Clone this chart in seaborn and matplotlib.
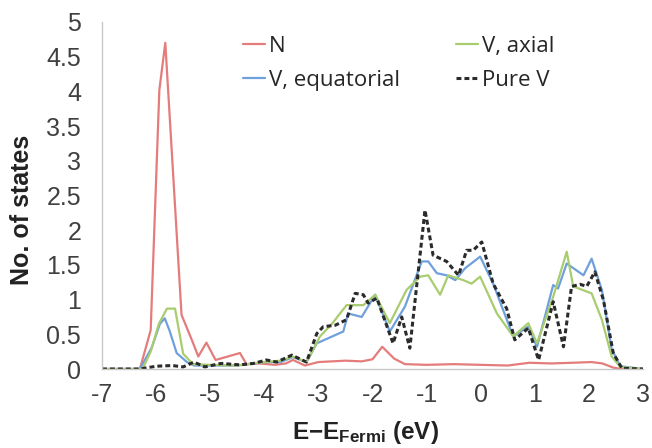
import matplotlib
matplotlib.use("Agg")
import matplotlib.pyplot as plt
import seaborn as sns
import pandas as pd

# Projected density of states, energies relative to the Fermi level (eV)
E_N = [-7.0, -6.3, -6.1, -5.94, -5.83, -5.53, -5.34, -5.22, -5.07, -4.9, -4.45,
       -4.33, -4.1, -3.8, -3.6, -3.47, -3.25, -3.0, -2.5, -2.2, -2.0, -1.82,
       -1.6, -1.4, -1.0, -0.5, 0.0, 0.5, 0.9, 1.3, 1.7, 2.05, 2.25, 2.45, 2.6, 3.0]
dos_N = [0, 0, 0.56, 4.02, 4.70, 0.78, 0.42, 0.18, 0.38, 0.13, 0.23,
         0.07, 0.08, 0.06, 0.08, 0.13, 0.05, 0.10, 0.12, 0.11, 0.14, 0.32,
         0.15, 0.07, 0.06, 0.07, 0.06, 0.05, 0.09, 0.08, 0.09, 0.10, 0.08, 0.02, 0.0, 0.0]

E_Veq = [-7.0, -6.3, -6.08, -5.93, -5.84, -5.75, -5.62, -5.43, -5.3, -5.0, -4.5,
         -4.0, -3.7, -3.47, -3.22, -3.03, -2.8, -2.54, -2.45, -2.2, -1.95, -1.68,
         -1.40, -1.09, -0.97, -0.81, -0.63, -0.47, -0.29, -0.01, 0.23, 0.60, 0.88,
         1.04, 1.34, 1.43, 1.59, 1.90, 2.05, 2.24, 2.42, 2.58, 3.0]
dos_Veq = [0, 0, 0.31, 0.65, 0.73, 0.55, 0.23, 0.10, 0.05, 0.05, 0.05,
           0.10, 0.10, 0.17, 0.10, 0.37, 0.45, 0.54, 0.80, 0.75, 1.07, 0.54,
           0.90, 1.55, 1.55, 1.38, 1.35, 1.28, 1.45, 1.62, 1.23, 0.47, 0.61,
           0.32, 1.21, 1.16, 1.52, 1.35, 1.59, 1.14, 0.29, 0.04, 0.0]

E_Vax = [-7.0, -6.25, -6.1, -5.95, -5.8, -5.65, -5.5, -5.32, -5.0, -4.5, -4.0,
         -3.7, -3.47, -3.22, -2.97, -2.75, -2.48, -2.17, -1.95, -1.68, -1.37,
         -1.12, -0.97, -0.75, -0.60, -0.32, -0.17, -0.01, 0.30, 0.60, 0.88,
         1.04, 1.34, 1.59, 1.71, 2.05, 2.24, 2.42, 2.58, 3.0]
dos_Vax = [0, 0, 0.25, 0.65, 0.87, 0.87, 0.22, 0.07, 0.06, 0.05, 0.10,
           0.12, 0.18, 0.10, 0.47, 0.65, 0.92, 0.92, 1.07, 0.66, 1.14,
           1.33, 1.35, 1.07, 1.35, 1.28, 1.23, 1.33, 0.80, 0.47, 0.66,
           0.37, 1.04, 1.69, 1.19, 1.09, 0.71, 0.18, 0.03, 0.0]

E_pure = [-7.0, -6.3, -6.0, -5.7, -5.5, -5.3, -5.1, -4.8, -4.45, -4.2, -3.96,
          -3.77, -3.49, -3.22, -3.03, -2.91, -2.69, -2.48, -2.32, -2.17, -2.08,
          -1.92, -1.62, -1.46, -1.31, -1.03, -0.88, -0.63, -0.41, -0.26, -0.14,
          0.02, 0.23, 0.48, 0.63, 0.88, 1.07, 1.34, 1.53, 1.68, 1.84, 1.96, 2.11,
          2.27, 2.45, 2.61, 3.0]
dos_pure = [0, 0, 0.04, 0.05, 0.03, 0.10, 0.03, 0.08, 0.06, 0.08, 0.13,
            0.10, 0.20, 0.10, 0.51, 0.61, 0.63, 0.71, 1.09, 1.07, 0.95,
            1.02, 0.37, 0.75, 0.30, 2.29, 1.64, 1.55, 1.35, 1.71, 1.71,
            1.83, 1.23, 0.87, 0.42, 0.59, 0.13, 0.97, 0.32, 1.19, 1.22, 1.19, 1.40,
            0.99, 0.23, 0.01, 0.0]

labels = ["N", "V, equatorial", "V, axial", "Pure V"]
x_ticks = [-7, -6, -5, -4, -3, -2, -1, 0, 1, 2, 3]
y_ticks = [0, 0.5, 1, 1.5, 2, 2.5, 3, 3.5, 4, 4.5, 5]
y_tick_labels = ["0", "0.5", "1", "1.5", "2", "2.5", "3", "3.5", "4", "4.5", "5"]

sns.set_theme(style="white")
plt.rcParams["font.family"] = ["Liberation Sans", "DejaVu Sans"]
plt.rcParams["mathtext.fontset"] = "custom"
plt.rcParams["mathtext.rm"] = "Liberation Sans"
plt.rcParams["mathtext.bf"] = "Liberation Sans:bold"

fig = plt.figure(figsize=(6.52, 4.48), dpi=100)
ax = fig.add_axes([102 / 652, 1 - 369 / 448, (643 - 102) / 652, (369 - 22) / 448])

series = [
    (labels[0], E_N, dos_N, "#E47C7C", "-", 1.6),
    (labels[1], E_Veq, dos_Veq, "#6FA0DC", "-", 1.6),
    (labels[2], E_Vax, dos_Vax, "#A9CC6E", "-", 1.6),
    (labels[3], E_pure, dos_pure, "#2B2B2B", (0, (1.6, 1.0)), 2.2),
]
for name, e, d, color, ls, lw in series:
    df = pd.DataFrame({"E": e, "DOS": d})
    sns.lineplot(data=df, x="E", y="DOS", ax=ax, color=color, linestyle=ls,
                 linewidth=lw, label=name, sort=False, estimator=None)

ax.set_xlim(-7, 3)
ax.set_ylim(0, 5)
ax.set_xticks(x_ticks)
ax.set_xticklabels([str(t) for t in x_ticks])
ax.set_yticks(y_ticks)
ax.set_yticklabels(y_tick_labels)
ax.tick_params(axis="both", labelsize=18, labelcolor="#404040", color="#C8C8C8",
               direction="in", length=4, width=1)
ax.tick_params(axis="x", pad=10)
ax.tick_params(axis="y", pad=15)

for side in ["top", "right"]:
    ax.spines[side].set_visible(False)
for side in ["left", "bottom"]:
    ax.spines[side].set_color("#C8C8C8")
    ax.spines[side].set_linewidth(1)

ax.set_xlabel(r"$\mathbf{E{-}E_{Fermi}}$ (eV)", fontsize=17.5, fontweight="bold",
              color="#222222")
ax.xaxis.set_label_coords((365 - 102) / 541, -(419 - 369) / 347)
ax.set_ylabel("No. of states", fontsize=18, fontweight="bold", color="#222222")
ax.yaxis.set_label_coords(-(102 - 34) / 541, (369 - 210) / 347)

leg = ax.legend(ncol=2, frameon=False, loc="upper left",
                bbox_to_anchor=((243 - 102) / 541, 0.96),
                prop={"family": "Open Sans", "size": 16},
                handlelength=1.0, handletextpad=0.15, columnspacing=2.55,
                labelspacing=0.57, borderaxespad=0, borderpad=0)

fig.savefig("out.png", dpi=100)
